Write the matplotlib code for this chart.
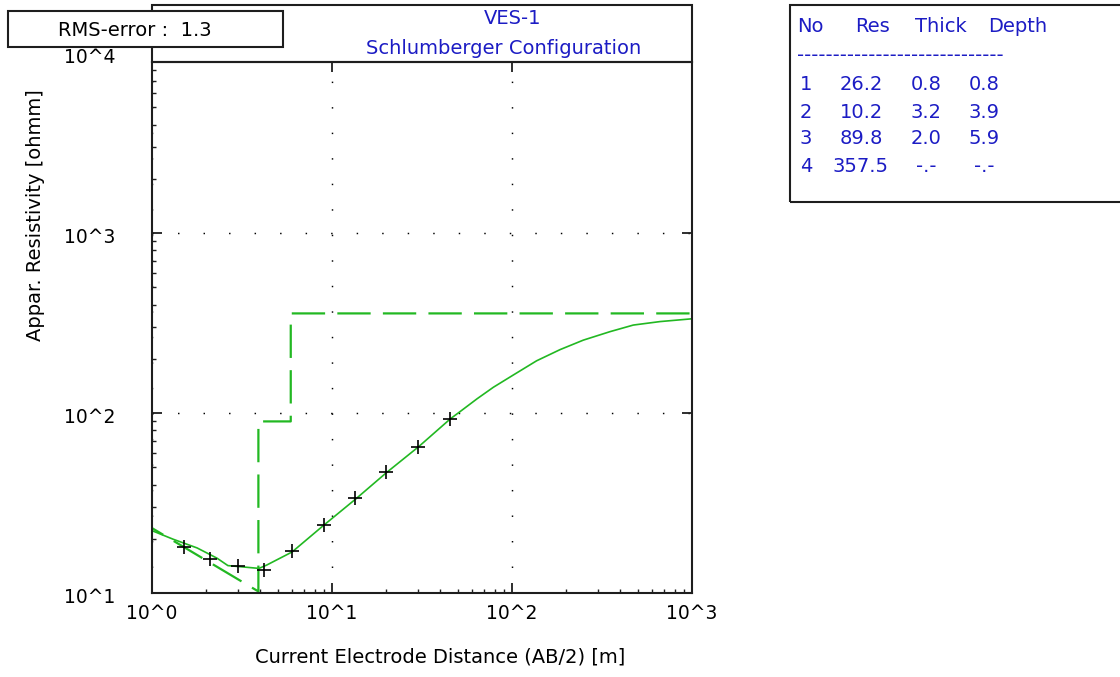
import matplotlib
matplotlib.use("Agg")
import matplotlib.pyplot as plt
from matplotlib.patches import Rectangle
from matplotlib.ticker import NullFormatter
from matplotlib.transforms import blended_transform_factory, offset_copy

plt.rcParams.update({
    "font.family": ["DejaVu Sans"],
    "font.size": 14,
})

# measured apparent resistivity (field data)
ab2_obs = [1.5, 2.1, 3.0, 4.2, 6.0, 9.0, 13.5, 20.0, 30.0, 45.0]
rho_obs = [18.0, 15.5, 14.1, 13.4, 17.1, 23.9, 33.5, 46.8, 64.8, 92.8]

# calculated curve of the inverted model
ab2_calc = [1.0, 1.31, 1.78, 2.30, 2.64, 3.93, 4.34, 6.0, 9.0, 13.6, 20.1, 30.3,
            45.5, 51.4, 64.0, 78.8, 101.7, 137, 185, 249, 350, 472, 664, 975, 1000]
rho_calc = [22.2, 19.9, 17.8, 15.6, 14.2, 13.7, 14.3, 16.9, 23.8, 33.4, 46.7, 65.0,
            92.9, 101.7, 120.0, 139, 162.6, 195, 225, 254, 283, 308, 322, 333, 334]

# layered model (step curve as drawn)
model_ab2 = [0.8, 3.9, 3.9, 5.9, 5.9, 1000]
model_rho = [26.2, 10.2, 89.8, 89.8, 357.5, 357.5]

# layer table
layer_no = ["1", "2", "3", "4"]
layer_res = ["26.2", "10.2", "89.8", "357.5"]
layer_thick = ["0.8", "3.2", "2.0", "-.-"]
layer_depth = ["0.8", "3.9", "5.9", "-.-"]

xticks = [1, 10, 100, 1000]
xtick_labels = ["10^0", "10^1", "10^2", "10^3"]
yticks = [10, 100, 1000, 10000]
ytick_labels = ["10^1", "10^2", "10^3", "10^4"]

W, H = 1120, 677
green = "#22b822"
blue = "#1c1cc4"
dark = "#1e1e1e"


def fx(px):
    return px / W


def fy(py):
    return 1 - py / H


fig = plt.figure(figsize=(11.2, 6.77), dpi=100)
ax = fig.add_axes([fx(152), fy(593), 540 / W, 531 / H])
ax.set_xscale("log")
ax.set_yscale("log")
ax.set_xlim(1, 1000)
ax.set_ylim(10, 10 ** (1 + 531 / 180))

ax.plot(model_ab2, model_rho, color=green, lw=1.6, dashes=(15, 5.5))
ax.plot(ab2_calc, rho_calc, color=green, lw=1.2)
ax.plot(ab2_obs, rho_obs, ls="none", marker="+", ms=10, mew=1.2, color="black")

ax.set_xticks(xticks, labels=xtick_labels)
ax.xaxis.set_minor_formatter(NullFormatter())
ax.yaxis.set_major_formatter(NullFormatter())
ax.yaxis.set_minor_formatter(NullFormatter())
ax.tick_params(which="major", direction="in", length=7, width=1.3,
               top=True, right=True, color=dark, pad=8, labelsize=13.5)
ax.tick_params(which="minor", direction="in", length=3, width=1,
               top=False, right=False, color=dark)
for s in ax.spines.values():
    s.set_linewidth(1.5)
    s.set_color(dark)

ax.grid(True, which="major", color="black", linestyle=(0, (1, 16.5)),
        linewidth=1.05, dash_capstyle="butt")
ax.grid(False, which="minor")

# y tick labels (10^4 sits above the visible range)
ytrans = offset_copy(blended_transform_factory(ax.transAxes, ax.transData),
                     fig=fig, y=-3, units="points")
for v, lab in zip(yticks, ytick_labels):
    ax.text(-0.0685, v, lab, transform=ytrans, ha="right", va="center",
            fontsize=13.5, clip_on=False)

fig.text(fx(440), fy(657), "Current Electrode Distance (AB/2) [m]",
         ha="center", va="center")
fig.text(fx(36), fy(215), "Appar. Resistivity [ohmm]", rotation=90,
         ha="center", va="center")

# title frame above the plot area
fig.add_artist(Rectangle((fx(152), fy(62)), 540 / W, 57 / H, transform=fig.transFigure,
                         fill=False, lw=1.5, edgecolor=dark))
fig.text(fx(513), fy(19), "VES-1", color=blue, ha="center", va="center")
fig.text(fx(504), fy(48), "Schlumberger Configuration", color=blue,
         ha="center", va="center")

# RMS box
fig.add_artist(Rectangle((fx(8), fy(47)), 275 / W, 36 / H, transform=fig.transFigure,
                         facecolor="white", lw=1.5, edgecolor=dark, zorder=5))
fig.text(fx(58), fy(31), "RMS-error :  1.3", ha="left", va="center", zorder=6)

# layer table
fig.add_artist(Rectangle((fx(790), fy(202)), 400 / W, 197 / H, transform=fig.transFigure,
                         fill=False, lw=1.5, edgecolor=dark))
for txt, px in zip(["No", "Res", "Thick", "Depth"], [797, 855, 915, 988]):
    fig.text(fx(px), fy(27), txt, color=blue, ha="left", va="center")
fig.text(fx(797), fy(55), "-" * 29, color=blue, ha="left", va="center")
row_y = [85, 112, 139, 166]
for i, ry in enumerate(row_y):
    fig.text(fx(806), fy(ry), layer_no[i], color=blue, ha="center", va="center")
    fig.text(fx(861), fy(ry), layer_res[i], color=blue, ha="center", va="center")
    fig.text(fx(926), fy(ry), layer_thick[i], color=blue, ha="center", va="center")
    fig.text(fx(984), fy(ry), layer_depth[i], color=blue, ha="center", va="center")

fig.savefig("out.png", dpi=100, facecolor="white")
